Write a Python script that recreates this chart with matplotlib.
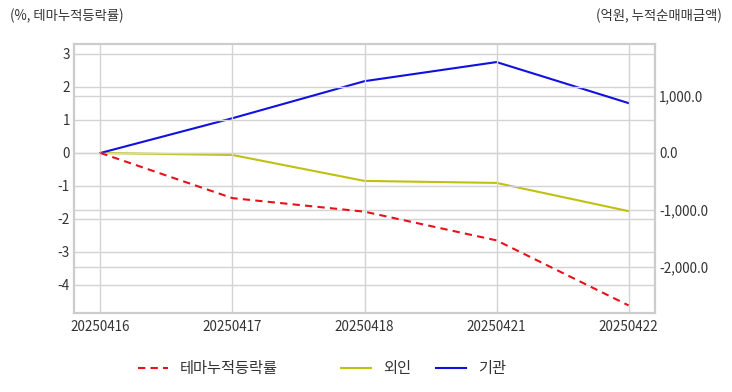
import matplotlib
matplotlib.use("Agg")
import matplotlib.pyplot as plt
from matplotlib.ticker import FuncFormatter

plt.rcParams['font.family'] = ['Noto Sans CJK KR', 'DejaVu Sans']
plt.rcParams['axes.unicode_minus'] = False

dates = ["20250416", "20250417", "20250418", "20250421", "20250422"]
theme_return = [0.0, -1.37, -1.78, -2.65, -4.62]
foreign = [0.0, -35, -490, -525, -1020]
institution = [0.0, 610, 1260, 1595, 875]

left_ticks = [3, 2, 1, 0, -1, -2, -3, -4]
right_ticks = [1000, 0, -1000, -2000]

text_color = "#333333"
grid_color = "#d3d3d3"

fig = plt.figure(figsize=(7.32, 3.92), dpi=100)
ax = fig.add_axes([74/732, 1-313/392, (655-74)/732, (313-44)/392])
ax2 = ax.twinx()

x = list(range(len(dates)))
l1, = ax.plot(x, theme_return, color="#e8101a", linestyle=(0, (3.5, 2.5)), linewidth=1.5, label="테마누적등락률")
l2, = ax2.plot(x, foreign, color="#c0c010", linewidth=1.5, label="외인")
l3, = ax2.plot(x, institution, color="#1010e0", linewidth=1.5, label="기관")

ax.set_xlim(-0.2, 4.2)
ax.set_ylim(-4.85, 3.30)
ax2.set_ylim(-2807, 1912)
ax.set_xticks(x)
ax.set_xticklabels(dates)
ax.set_yticks(left_ticks)
ax2.set_yticks(right_ticks)
ax2.yaxis.set_major_formatter(FuncFormatter(lambda v, p: f"{v:,.1f}"))

ax.grid(True, color=grid_color, linewidth=1)
ax2.grid(True, axis='y', color=grid_color, linewidth=1)
ax.set_axisbelow(True)
ax2.set_axisbelow(True)
ax.set_zorder(ax2.get_zorder() + 1)
ax.patch.set_visible(False)

for a in (ax, ax2):
    for s in a.spines.values():
        s.set_color("#cccccc")
        s.set_linewidth(1.5)
    a.tick_params(length=0, labelsize=9.7, labelcolor=text_color)
ax.tick_params(axis='x', pad=5)
ax.tick_params(axis='y', pad=3)
ax2.tick_params(axis='y', pad=3)

fig.text(10/732, 1-16/392, "(%, 테마누적등락률)", fontsize=9.6, color=text_color, va='center', ha='left')
fig.text(722/732, 1-16/392, "(억원, 누적순매매금액)", fontsize=9.6, color=text_color, va='center', ha='right')

for handle, xpos in ((l1, 138), (l2, 341), (l3, 436)):
    fig.legend(handles=[handle], loc='center left', bbox_to_anchor=(xpos/732, 1-369/392),
               frameon=False, fontsize=11, handlelength=1.95, handletextpad=0.8,
               borderpad=0, borderaxespad=0, labelcolor=text_color)

fig.savefig("out.png", dpi=100)
